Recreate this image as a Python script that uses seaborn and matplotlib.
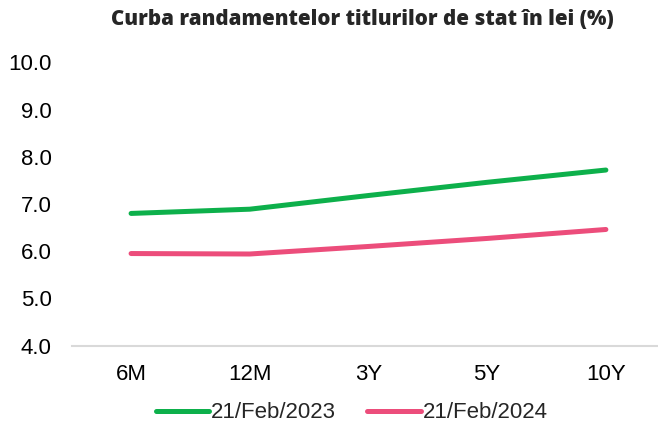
import pandas as pd
import seaborn as sns
import matplotlib.pyplot as plt

# tenors and yields (%)
tenors = ["6M", "12M", "3Y", "5Y", "10Y"]
yields_2023 = [6.80, 6.89, 7.18, 7.46, 7.72]
yields_2024 = [5.95, 5.94, 6.10, 6.27, 6.46]
series_names = ["21/Feb/2023", "21/Feb/2024"]
colors = ["#0DB04B", "#EC4D7B"]

df = pd.DataFrame({
    "tenor": tenors * 2,
    "yield": yields_2023 + yields_2024,
    "series": [series_names[0]] * 5 + [series_names[1]] * 5,
})

sns.set_theme(style="white")
plt.rcParams['font.family'] = ['Liberation Sans', 'DejaVu Sans']

fig = plt.figure(figsize=(6.58, 4.25), dpi=100)
ax = fig.add_axes([0.109, 0.187, 0.902, 0.666])

sns.lineplot(data=df, x="tenor", y="yield", hue="series", palette=colors,
             linewidth=3.6, sort=False, ax=ax, solid_capstyle="round")

ax.set_ylim(4, 10)
ax.set_xlim(-0.5, 4.5)
ax.set_yticks([4, 5, 6, 7, 8, 9, 10])
ax.set_yticklabels([f"{v:.1f}" for v in [4, 5, 6, 7, 8, 9, 10]])
ax.tick_params(axis="both", labelsize=16, colors="#000000", length=0)
ax.tick_params(axis="y", pad=14.5)
ax.tick_params(axis="x", pad=13)
ax.set_xlabel("")
ax.set_ylabel("")

sns.despine(ax=ax, left=True, top=True, right=True)
ax.spines["bottom"].set_color("#D9D9D9")
ax.spines["bottom"].set_linewidth(1.5)

ax.legend(loc="upper center", bbox_to_anchor=(0.472, -0.13), ncol=2,
          frameon=False, fontsize=16, handlelength=2.4, handletextpad=0.1,
          columnspacing=1.4)

fig.text(0.551, 0.955, "Curba randamentelor titlurilor de stat în lei (%)",
         ha="center", va="center", fontsize=14.8, fontweight=800,
         family=["Open Sans", "DejaVu Sans"])

fig.savefig("out.png", dpi=100)
